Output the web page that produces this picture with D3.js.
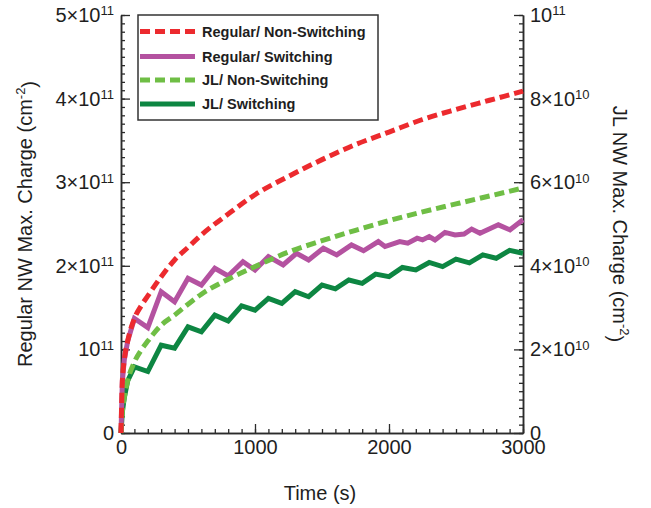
<!DOCTYPE html>
<html>
<head>
<meta charset="utf-8">
<script src="https://cdn.jsdelivr.net/npm/d3@7"></script>
<style>
  html, body { margin: 0; padding: 0; background: #fff; }
  svg { display: block; font-family: "Liberation Sans", Arial, sans-serif; }
</style>
</head>
<body>
<svg id="chart" width="651" height="508"></svg>
<script>
// ---------------- DATA ----------------
const seriesNames = ["Regular/ Non-Switching", "Regular/ Switching", "JL/ Non-Switching", "JL/ Switching"];

// Regular / Non-Switching (left axis, cm^-2)
const regNonTime = [0, 10, 25, 50, 100, 150, 200, 300, 400, 500, 600, 800, 1000, 1250, 1500, 1750, 2000, 2250, 2500, 2750, 3000];
const regNonVal  = [0, 0.62e11, 0.88e11, 1.10e11, 1.37e11, 1.52e11, 1.64e11, 1.87e11, 2.07e11, 2.22e11, 2.37e11, 2.62e11, 2.85e11, 3.07e11, 3.27e11, 3.45e11, 3.60e11, 3.75e11, 3.87e11, 3.98e11, 4.09e11];

// Regular / Switching (left axis)
const regSwTime = [0, 10, 25, 50, 100, 200, 300, 400, 500, 600, 700, 800, 910, 1000, 1100, 1210, 1310, 1400, 1510, 1610, 1720, 1810, 1920, 1970, 2080, 2140, 2210, 2250, 2300, 2343, 2418, 2493, 2560, 2617, 2679, 2816, 2903, 3000];
const regSwVal  = [0, 0.62e11, 0.88e11, 1.10e11, 1.37e11, 1.26e11, 1.69e11, 1.57e11, 1.85e11, 1.77e11, 1.97e11, 1.88e11, 2.05e11, 1.95e11, 2.11e11, 2.01e11, 2.15e11, 2.07e11, 2.21e11, 2.13e11, 2.25e11, 2.18e11, 2.29e11, 2.23e11, 2.29e11, 2.27e11, 2.33e11, 2.31e11, 2.35e11, 2.31e11, 2.40e11, 2.37e11, 2.38e11, 2.44e11, 2.39e11, 2.49e11, 2.43e11, 2.55e11];

// JL / Non-Switching (right axis)
const jlNonTime = [0, 10, 25, 50, 100, 150, 200, 300, 400, 500, 600, 800, 1000, 1250, 1500, 1750, 2000, 2250, 2500, 2750, 3000];
const jlNonVal  = [0, 0.50e10, 0.85e10, 1.25e10, 1.70e10, 1.98e10, 2.20e10, 2.58e10, 2.82e10, 3.08e10, 3.32e10, 3.68e10, 3.98e10, 4.33e10, 4.60e10, 4.85e10, 5.08e10, 5.29e10, 5.48e10, 5.67e10, 5.86e10];

// JL / Switching (right axis)
const jlSwTime = [0, 10, 25, 50, 100, 200, 300, 400, 500, 600, 700, 800, 900, 1000, 1100, 1200, 1300, 1400, 1500, 1600, 1700, 1800, 1900, 2000, 2100, 2200, 2300, 2400, 2500, 2600, 2700, 2800, 2900, 3000];
const jlSwVal  = [0, 0.50e10, 0.85e10, 1.25e10, 1.58e10, 1.47e10, 2.10e10, 2.03e10, 2.54e10, 2.42e10, 2.82e10, 2.68e10, 3.04e10, 2.94e10, 3.22e10, 3.10e10, 3.38e10, 3.26e10, 3.54e10, 3.45e10, 3.66e10, 3.58e10, 3.80e10, 3.74e10, 3.96e10, 3.90e10, 4.08e10, 3.98e10, 4.16e10, 4.07e10, 4.26e10, 4.18e10, 4.37e10, 4.30e10];

// Ticks
const xTicks = [0, 1000, 2000, 3000];
const xTickLabels = ["0", "1000", "2000", "3000"];
const leftTicks = [0, 1e11, 2e11, 3e11, 4e11, 5e11];
const leftTickLabels = ["0", "10^11", "2×10^11", "3×10^11", "4×10^11", "5×10^11"];
const rightTicks = [0, 2e10, 4e10, 6e10, 8e10, 1e11];
const rightTickLabels = ["0", "2×10^10", "4×10^10", "6×10^10", "8×10^10", "10^11"];

// ---------------- LAYOUT ----------------
const L = 121, R = 523, T = 15, B = 433;
const svg = d3.select("#chart");
const axisColor = "#2b2b2b";
const textColor = "#1e1e1e";
const FONT = "Liberation Sans, Arial, sans-serif";

const x = d3.scaleLinear().domain([0, 3000]).range([L, R]);
const yL = d3.scaleLinear().domain([0, 5e11]).range([B, T]);
const yR = d3.scaleLinear().domain([0, 1e11]).range([B, T]);

function styleAxis(g) {
  g.selectAll("path.domain").attr("stroke", axisColor).attr("stroke-width", 1.5);
  g.selectAll(".tick line").attr("stroke", axisColor).attr("stroke-width", 1.3);
}
function setLabel(textSel, labels) {
  textSel.each(function(d, i) {
    const s = labels[i];
    const t = d3.select(this).text("");
    const parts = s.split("^");
    t.append("tspan").text(parts[0]);
    if (parts[1]) {
      t.append("tspan").attr("dy", "-0.5em").attr("font-size", 13).text(parts[1]);
    }
  });
}

// minor ticks
svg.append("g").attr("transform", `translate(0,${B})`)
  .call(d3.axisBottom(x).tickValues(d3.range(0, 3001, 100)).tickSize(-4).tickSizeOuter(0).tickFormat(""))
  .call(styleAxis);
svg.append("g").attr("transform", `translate(${L},0)`)
  .call(d3.axisLeft(yL).tickValues(d3.range(0, 51).map(k => k * 1e10)).tickSize(-4).tickSizeOuter(0).tickFormat(""))
  .call(styleAxis);
svg.append("g").attr("transform", `translate(${R},0)`)
  .call(d3.axisRight(yR).tickValues(d3.range(0, 51).map(k => k * 2e9)).tickSize(-4).tickSizeOuter(0).tickFormat(""))
  .call(styleAxis);

// major ticks + labels
const gx = svg.append("g").attr("transform", `translate(0,${B})`)
  .call(d3.axisBottom(x).tickValues(xTicks).tickSize(-9).tickSizeOuter(0).tickPadding(7).tickFormat((d, i) => xTickLabels[i]))
  .call(styleAxis);
gx.selectAll("text").attr("font-size", 20).attr("fill", textColor).attr("font-family", FONT);

const gl = svg.append("g").attr("transform", `translate(${L},0)`)
  .call(d3.axisLeft(yL).tickValues(leftTicks).tickSize(-9).tickSizeOuter(0).tickPadding(7).tickFormat(""))
  .call(styleAxis);
gl.selectAll("text").attr("font-size", 20).attr("fill", textColor).attr("font-family", FONT).call(setLabel, leftTickLabels);

const gr = svg.append("g").attr("transform", `translate(${R},0)`)
  .call(d3.axisRight(yR).tickValues(rightTicks).tickSize(-9).tickSizeOuter(0).tickPadding(7).tickFormat(""))
  .call(styleAxis);
gr.selectAll("text").attr("font-size", 20).attr("fill", textColor).attr("font-family", FONT).call(setLabel, rightTickLabels);

// axis titles
svg.append("text").attr("x", 320).attr("y", 500).attr("text-anchor", "middle")
  .attr("font-size", 20).attr("fill", textColor).text("Time (s)");

const lt = svg.append("text").attr("transform", `translate(32,${(T + B) / 2}) rotate(-90)`)
  .attr("text-anchor", "middle").attr("font-size", 20).attr("fill", textColor);
lt.append("tspan").text("Regular NW Max. Charge (cm");
lt.append("tspan").attr("dy", "-0.55em").attr("font-size", 13).text("-2");
lt.append("tspan").attr("dy", "0.55em").text(")");

const rt = svg.append("text").attr("transform", `translate(613,${(T + B) / 2}) rotate(90)`)
  .attr("text-anchor", "middle").attr("font-size", 20).attr("fill", textColor);
rt.append("tspan").text("JL NW Max. Charge (cm");
rt.append("tspan").attr("dy", "-0.55em").attr("font-size", 13).text("-2");
rt.append("tspan").attr("dy", "0.55em").text(")");

// ---------------- LINES ----------------
const colors = ["#ec2a2e", "#b452a0", "#6fbe45", "#0d8642"];
const dashes = ["10,5", null, "10,5", null];
const curves = [d3.curveMonotoneX, d3.curveLinear, d3.curveMonotoneX, d3.curveLinear];

function drawLine(times, vals, yScale, k) {
  const line = d3.line().x((d, i) => x(times[i])).y(d => yScale(d)).curve(curves[k]);
  svg.append("path").datum(vals)
    .attr("d", line)
    .attr("fill", "none")
    .attr("stroke", colors[k])
    .attr("stroke-width", 5)
    .attr("stroke-linejoin", "miter")
    .attr("stroke-dasharray", dashes[k]);
}
drawLine(jlSwTime, jlSwVal, yR, 3);
drawLine(regSwTime, regSwVal, yL, 1);
drawLine(jlNonTime, jlNonVal, yR, 2);
drawLine(regNonTime, regNonVal, yL, 0);

// ---------------- LEGEND ----------------
const lg = svg.append("g");
lg.append("rect").attr("x", 138).attr("y", 15).attr("width", 240).attr("height", 105)
  .attr("fill", "#fff").attr("stroke", "#333").attr("stroke-width", 1.5);
const legYs = [31.5, 56.5, 80, 104];
[0, 1, 2, 3].forEach((k, i) => {
  lg.append("line").attr("x1", 140).attr("x2", 195).attr("y1", legYs[i]).attr("y2", legYs[i])
    .attr("stroke", colors[k]).attr("stroke-width", 5).attr("stroke-dasharray", dashes[k]);
  lg.append("text").attr("x", 202).attr("y", legYs[i]).attr("dy", "0.35em")
    .attr("font-size", 14.5).attr("font-weight", "bold").attr("fill", textColor).text(seriesNames[k]);
});
</script>
</body>
</html>
